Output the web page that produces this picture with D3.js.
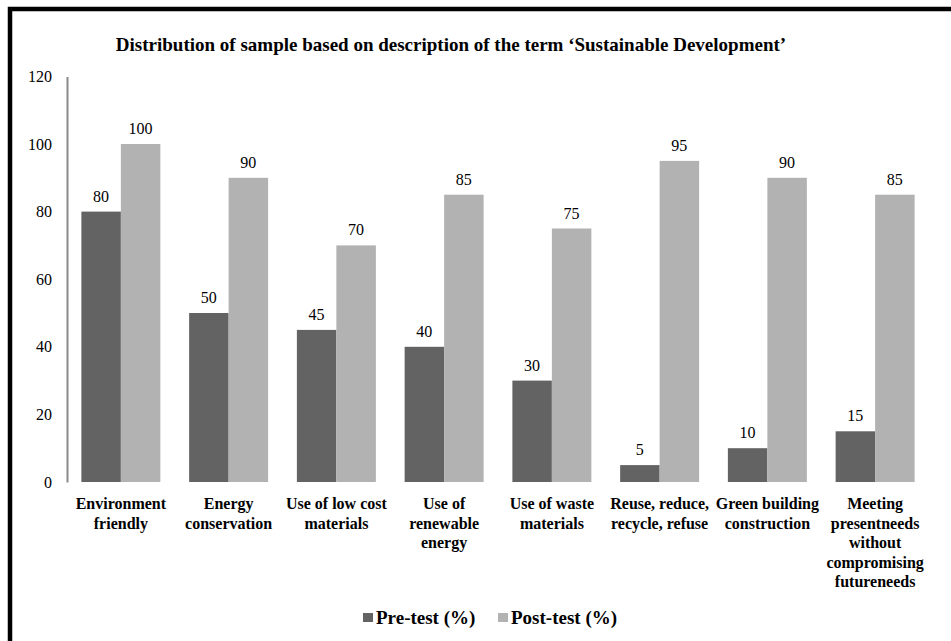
<!DOCTYPE html>
<html>
<head>
<meta charset="utf-8">
<script src="https://cdn.jsdelivr.net/npm/d3@7"></script>
<style>
  html, body { margin: 0; padding: 0; background: #fff; }
  svg { display: block; }
  svg text { font-family: "Liberation Serif", "Times New Roman", serif; }
</style>
</head>
<body>
<svg id="chart" width="951" height="641"></svg>
<script>
const title = "Distribution of sample based on description of the term \u2018Sustainable Development\u2019";
const categories = [
  "Environment\nfriendly",
  "Energy\nconservation",
  "Use of low cost\nmaterials",
  "Use of\nrenewable\nenergy",
  "Use of waste\nmaterials",
  "Reuse, reduce,\nrecycle, refuse",
  "Green building\nconstruction",
  "Meeting\npresentneeds\nwithout\ncompromising\nfutureneeds"
];
const seriesNames = ["Pre-test (%)", "Post-test (%)"];
const preTest = [80, 50, 45, 40, 30, 5, 10, 15];
const postTest = [100, 90, 70, 85, 75, 95, 90, 85];
const yTicks = [0, 20, 40, 60, 80, 100, 120];
const colors = ["#636363", "#b2b2b2"];

const svg = d3.select("#chart");
const serif = "'Liberation Serif', 'Times New Roman', serif";

// frame
svg.append("rect").attr("x", 10).attr("y", 9).attr("width", 1000).attr("height", 700)
  .attr("fill", "none").attr("stroke", "#000").attr("stroke-width", 4.5);

const plotLeft = 67, plotRight = 929, plotTop = 76.4, plotBottom = 482;

const x0 = d3.scaleBand().domain(categories).range([plotLeft, plotRight])
  .paddingInner(0.267).paddingOuter(0.1335);
const x1 = d3.scaleBand().domain(seriesNames).range([0, x0.bandwidth()]).padding(0);
const y = d3.scaleLinear().domain([0, 120]).range([plotBottom, plotTop]);
const color = d3.scaleOrdinal().domain(seriesNames).range(colors);

// title
svg.append("text").attr("x", 451).attr("y", 51).attr("text-anchor", "middle")
  .style("font-family", serif).attr("font-weight", "bold").attr("font-size", 19)
  .text(title);

// y axis
const yAxis = svg.append("g").attr("transform", `translate(${plotLeft},0)`)
  .call(d3.axisLeft(y).tickValues(yTicks).tickSize(0).tickPadding(15).tickFormat(d3.format("d")));
yAxis.select(".domain").attr("stroke", "#8a8a8a").attr("stroke-width", 2);
yAxis.selectAll("text").style("font-family", serif).attr("font-size", 16).attr("fill", "#000");

// data rows
const rows = categories.map((c, i) => ({ cat: c, values: [
  { key: seriesNames[0], value: preTest[i] },
  { key: seriesNames[1], value: postTest[i] }
]}));

const groups = svg.append("g").selectAll("g").data(rows).join("g")
  .attr("transform", d => `translate(${x0(d.cat)},0)`);

groups.selectAll("rect").data(d => d.values).join("rect")
  .attr("x", d => x1(d.key)).attr("width", x1.bandwidth())
  .attr("y", d => y(d.value)).attr("height", d => y(0) - y(d.value))
  .attr("fill", d => color(d.key));

groups.selectAll("text.val").data(d => d.values).join("text").attr("class", "val")
  .attr("x", d => x1(d.key) + x1.bandwidth() / 2)
  .attr("y", d => y(d.value) - 10)
  .attr("text-anchor", "middle")
  .style("font-family", serif).attr("font-size", 16).attr("fill", "#000")
  .text(d => d.value);

// category labels
const catLabels = svg.append("g").selectAll("text").data(categories).join("text")
  .attr("x", d => x0(d) + x0.bandwidth() / 2)
  .attr("y", 509)
  .attr("text-anchor", "middle")
  .style("font-family", serif).attr("font-weight", "bold").attr("font-size", 16).attr("fill", "#000");
catLabels.each(function(d) {
  const t = d3.select(this);
  d.split("\n").forEach((line, i) => {
    t.append("tspan").attr("x", x0(d) + x0.bandwidth() / 2).attr("dy", i === 0 ? 0 : 19.5).text(line);
  });
});

// legend
const legendX = [363, 498];
const legend = svg.append("g").selectAll("g").data(seriesNames).join("g")
  .attr("transform", (d, i) => `translate(${legendX[i]},613)`);
legend.append("rect").attr("width", 10).attr("height", 9).attr("fill", d => color(d));
legend.append("text").attr("x", 13).attr("y", 10.5)
  .style("font-family", serif).attr("font-weight", "bold").attr("font-size", 19).attr("fill", "#000")
  .text(d => d);
</script>
</body>
</html>
